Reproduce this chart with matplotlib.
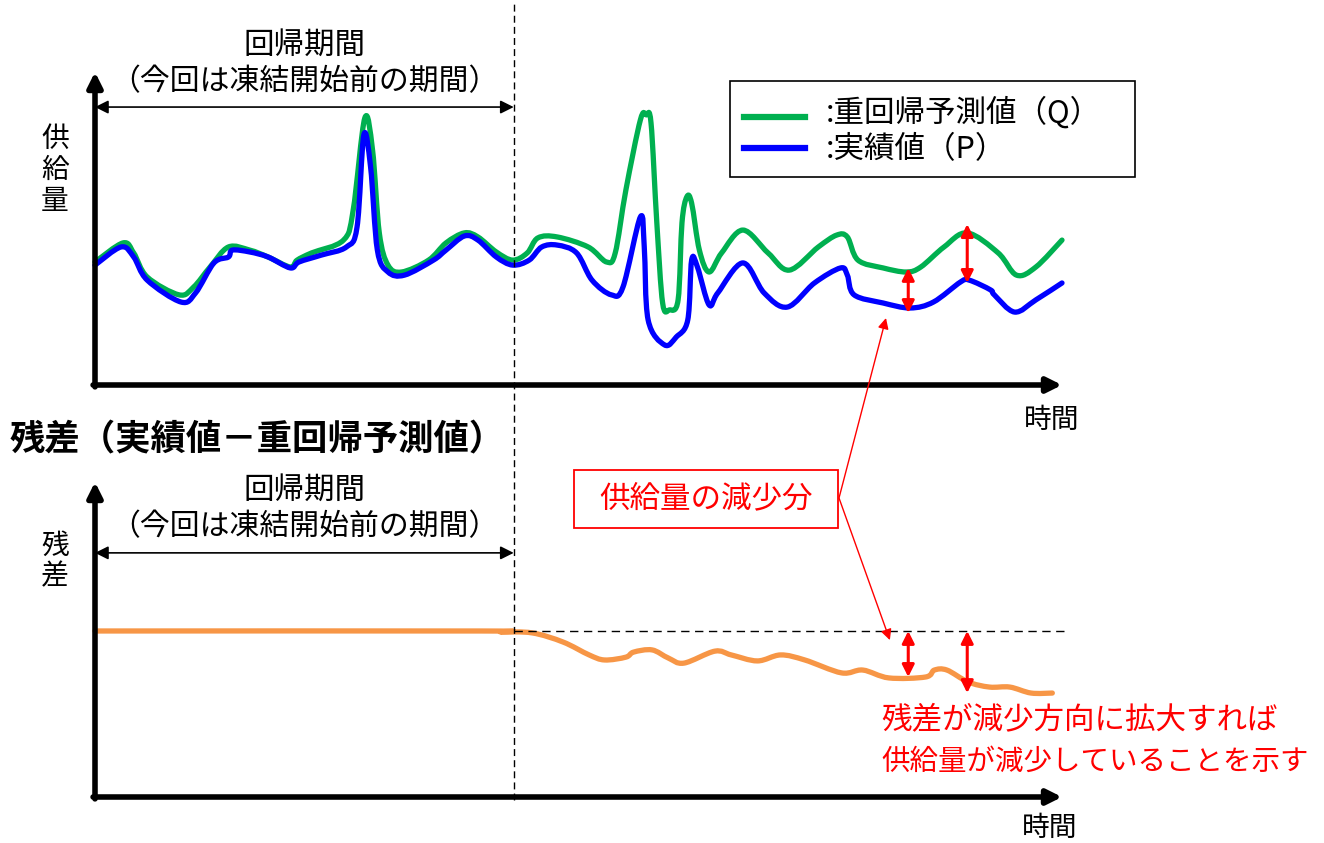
import matplotlib
matplotlib.use("Agg")
import numpy as np
import matplotlib.pyplot as plt
from matplotlib.patches import Rectangle, PathPatch
from matplotlib.path import Path
from matplotlib.lines import Line2D
from matplotlib.transforms import blended_transform_factory

plt.rcParams['font.family'] = ['Noto Sans CJK JP', 'DejaVu Sans']

# 重回帰予測値 (Q)
t_q = [0, 2.9, 4.0, 5.4, 8.7, 10.2, 11.9, 13.8, 16.0, 17.9, 20.2, 20.9, 22.4, 25.7,
       26.7, 27.9, 28.7, 29.4, 30.3, 31.7, 34.5, 36.3, 38.2, 39.6, 41.5, 43.2,
       44.7, 45.8, 47.8, 51.0, 52.9, 53.8, 54.9, 56.4, 57.0, 57.5, 58.1, 58.7,
       59.4, 60.3, 60.7, 61.2, 61.7, 62.5, 63.5, 64.8, 67.0, 69.6, 71.8, 74.8,
       76.7, 77.8, 78.9, 81.5, 83.9, 85.4, 87.8, 90.2, 93.4, 95.3, 97.3, 100.0]
q_vals = [39.3, 45.4, 42.2, 34.5, 28.8, 31.3, 37.7, 44.1, 43.1, 40.9, 37.7, 39.9, 42.2, 46.3,
          55.9, 85.3, 75.1, 48.6, 38.3, 36.1, 39.9, 45.4, 48.6, 47.3, 42.5, 39.9,
          42.2, 47.0, 47.3, 44.1, 39.3, 42.2, 62.3, 84.7, 86.3, 83.7, 51.8, 26.2,
          24.0, 27.2, 51.8, 60.1, 58.1, 43.1, 36.1, 42.2, 49.5, 42.2, 36.7, 44.1,
          47.9, 47.3, 39.9, 37.4, 36.1, 37.7, 44.1, 48.6, 42.2, 35.1, 37.7, 46.3]

# 実績値 (P)
t_p = [0, 2.7, 4.0, 5.4, 8.9, 10.4, 12.3, 13.8, 14.2, 16.0, 17.9, 20.2, 21.1, 23.4,
       26.0, 27.1, 27.8, 28.5, 29.2, 30.3, 32.0, 35.0, 36.3, 38.2, 39.6, 41.5, 43.2,
       44.9, 46.2, 47.8, 49.8, 51.4, 53.4, 54.6, 56.4, 56.8, 57.2, 58.9, 60.1,
       61.3, 61.7, 62.3, 63.5, 64.4, 67.0, 69.2, 71.6, 74.4, 77.1, 77.8, 78.5,
       81.5, 84.3, 86.7, 89.5, 90.4, 92.6, 93.0, 95.1, 97.3, 100.0]
p_vals = [38.3, 44.1, 40.9, 33.5, 26.5, 29.4, 39.0, 40.9, 43.1, 42.5, 40.9, 37.4, 39.3, 41.5,
          44.1, 50.5, 79.9, 69.6, 43.1, 36.1, 35.1, 39.9, 43.1, 47.6, 46.3, 40.9, 38.3,
          39.9, 44.1, 44.7, 42.2, 33.5, 28.8, 31.3, 53.7, 44.1, 20.8, 12.8, 15.3,
          20.8, 39.9, 37.7, 25.6, 29.4, 39.0, 29.4, 24.9, 32.6, 37.4, 35.1, 28.8,
          26.2, 24.6, 26.5, 32.9, 33.5, 30.4, 28.8, 23.3, 27.2, 32.6]

# 残差 (P - Q)
t_r = [0, 39.8, 41.9, 45.2, 48.4, 51.1, 52.7, 54.9, 55.7, 57.6, 59.3, 60.9, 64.1,
       65.8, 68.5, 70.9, 73.4, 77.2, 79.4, 82.1, 85.9, 86.8, 88.1, 90.3, 92.5,
       94.6, 96.8, 99.0]
r_vals = [52.7, 52.7, 52.4, 52.1, 49.2, 45.1, 43.5, 44.4, 46.0, 46.7, 44.1, 42.5, 46.3,
          45.1, 43.2, 45.1, 43.5, 39.4, 40.3, 37.8, 38.1, 40.3, 40.3, 36.5, 34.9,
          34.9, 33.0, 33.0]

freeze_t = 43.3
base_r = 52.7
gap_t = [84.1, 90.2]
gap_q = [37.4, 51.4]
gap_p = [23.0, 32.6]
gap_r = [38.1, 33.0]

label_q = ':重回帰予測値（Q）'
label_p = ':実績値（P）'

W, H = 1324, 843
fig = plt.figure(figsize=(W / 100, H / 100), dpi=100)


def fp(x, y):
    # figure fraction from pixel (top-left origin)
    return (x / W, 1 - y / H)


def smooth_line(ax, x, y, color):
    # smoothed line like Excel (Catmull-Rom drawn as bezier)
    p = np.column_stack([x, y]).astype(float)
    pts = np.vstack([p[0], p, p[-1]])
    verts = [p[0]]
    codes = [Path.MOVETO]
    for i in range(1, len(pts) - 2):
        p0, p1, p2, p3 = pts[i - 1], pts[i], pts[i + 1], pts[i + 2]
        verts += [p1 + (p2 - p0) / 6, p2 - (p3 - p1) / 6, p2]
        codes += [Path.CURVE4] * 3
    ax.add_patch(PathPatch(Path(verts, codes), fill=False, edgecolor=color,
                           lw=3.8, capstyle='round', joinstyle='round',
                           clip_on=False))


ax1 = fig.add_axes([95 / W, 1 - 385 / H, 967 / W, 313 / H])
ax2 = fig.add_axes([95 / W, 1 - 797 / H, 967 / W, 315 / H])
for ax in (ax1, ax2):
    ax.set_xlim(0, 100)
    ax.set_ylim(0, 100)
    ax.axis('off')

# axes arrows
axis_kw = dict(arrowstyle='-|>', lw=4, color='black', mutation_scale=22,
               shrinkA=0, shrinkB=0)
for ax in (ax1, ax2):
    ax.annotate('', xy=(0, 100), xytext=(0, -0.6), arrowprops=axis_kw,
                annotation_clip=False)
    ax.annotate('', xy=(100, 0), xytext=(-0.2, 0), arrowprops=axis_kw,
                annotation_clip=False)

# freeze start dashed line
tr = blended_transform_factory(ax1.transData, fig.transFigure)
fig.add_artist(Line2D([freeze_t, freeze_t], [1 - 800 / H, 1.0], transform=tr,
                      color='black', lw=1, ls=(0, (5, 3))))

# series
smooth_line(ax1, t_q, q_vals, '#00B050')
smooth_line(ax1, t_p, p_vals, '#0000FF')
smooth_line(ax2, t_r, r_vals, '#F79646')
ax2.plot([freeze_t, 100.6], [base_r, base_r], color='black', lw=1,
         ls=(0, (6, 4)), clip_on=False)

# regression period arrows & labels
for ax, y_arr, y1, y2 in ((ax1, 88.8, 108.6, 96.8), (ax2, 77.5, 97.5, 85.7)):
    ax.annotate('', xy=(0, y_arr), xytext=(freeze_t, y_arr),
                arrowprops=dict(arrowstyle='<|-|>', lw=1.2, color='black',
                                mutation_scale=20, shrinkA=0, shrinkB=0),
                annotation_clip=False)
    ax.text(21.7, y1, '回帰期間', ha='center', va='center', fontsize=22,
            clip_on=False)
    ax.text(21.7, y2, '（今回は凍結開始前の期間）', ha='center', va='center',
            fontsize=21.5, clip_on=False)

# red gap arrows
red_kw = dict(arrowstyle='<|-|>', lw=2.2, color='#FF0000', mutation_scale=18,
              shrinkA=0, shrinkB=0)
for t, a, b in zip(gap_t, gap_q, gap_p):
    ax1.annotate('', xy=(t, a), xytext=(t, b), arrowprops=red_kw)
for t, b in zip(gap_t, gap_r):
    ax2.annotate('', xy=(t, base_r), xytext=(t, b), arrowprops=red_kw)

# callout
fig.add_artist(Rectangle(fp(574, 528), 264 / W, 58 / H, transform=fig.transFigure,
                         fill=False, edgecolor='#FF0000', lw=1.3))
fig.text(*fp(706, 499), '供給量の減少分', color='#FF0000', fontsize=22,
         ha='center', va='center')
call_kw = dict(arrowstyle='-|>', lw=1, color='#FF0000', mutation_scale=16,
               shrinkA=0, shrinkB=0)
ax1.annotate('', xy=(81.8, 21.4), xytext=(839, H - 498),
             textcoords='figure pixels', arrowprops=call_kw,
             annotation_clip=False)
ax2.annotate('', xy=(82.2, 49.8), xytext=(839, H - 498),
             textcoords='figure pixels', arrowprops=call_kw,
             annotation_clip=False)
fig.text(*fp(881, 720), '残差が減少方向に拡大すれば', color='#FF0000',
         fontsize=22, ha='left', va='center')
fig.text(*fp(881, 762), '供給量が減少していることを示す', color='#FF0000',
         fontsize=20.5, ha='left', va='center')

# legend
fig.add_artist(Rectangle(fp(730, 177), 405 / W, 96 / H, transform=fig.transFigure,
                         fill=False, edgecolor='black', lw=1.2))
for y, c, lab in ((117, '#00B050', label_q), (148, '#0000FF', label_p)):
    x0, y0 = fp(744, y)
    x1, _ = fp(805, y)
    fig.add_artist(Line2D([x0, x1], [y0, y0], transform=fig.transFigure,
                          color=c, lw=4.5))
for y, lab in ((112, label_q), (150, label_p)):
    fig.text(*fp(826, y), lab, fontsize=22, ha='left', va='center')

# titles and axis labels
fig.text(*fp(10, 440), '残差（実績値－重回帰予測値）', fontsize=25.5,
         fontweight='bold', ha='left', va='center')
fig.text(*fp(55, 170), '供\n給\n量', fontsize=20, ha='center', va='center',
         linespacing=1.05)
fig.text(*fp(55, 561), '残\n差', fontsize=20, ha='center', va='center',
         linespacing=1.05)
fig.text(*fp(1052, 420), '時間', fontsize=20, ha='center', va='center')
fig.text(*fp(1050, 828), '時間', fontsize=20, ha='center', va='center')

fig.savefig('out.png', dpi=100, facecolor='white')
